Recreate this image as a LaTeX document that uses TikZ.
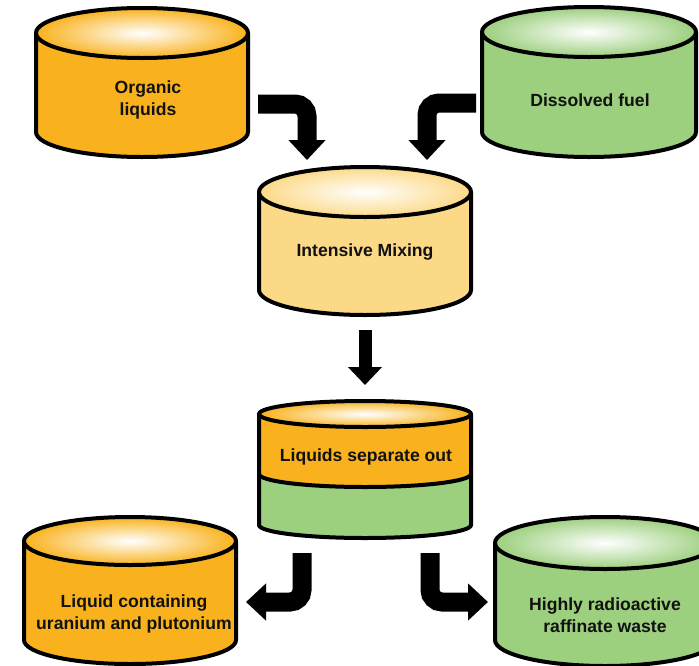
\documentclass[tikz,border=0pt]{standalone}
\usepackage{fontspec}
\setmainfont{Liberation Sans}
\usetikzlibrary{arrows.meta}
\definecolor{orangefill}{HTML}{F9B21D}
\definecolor{greenfill}{HTML}{9CCF7E}
\definecolor{lightfill}{HTML}{FCD987}
\definecolor{inktext}{HTML}{111111}
\newcommand\drumbody[6]{% cx, ytop, ybot, rx, ry, color
  \fill[#6] (#1-#4,#2) -- (#1-#4,#3) arc[start angle=180,end angle=0,x radius=#4,y radius=#5] -- (#1+#4,#2) -- cycle;
}
\newcommand\drumoutline[5]{% cx, ytop, ybot, rx, ry
  \draw[outl] (#1-#4,#2) -- (#1-#4,#3) arc[start angle=180,end angle=0,x radius=#4,y radius=#5] -- (#1+#4,#2);
}
\newcommand\drumtop[5]{% cx, ytop, rx, ry, color
  \shade[inner color=white, outer color=#5] (#1,#2) ellipse[x radius=#3,y radius=#4];
  \draw[outl] (#1,#2) ellipse[x radius=#3,y radius=#4];
}
\tikzset{
  outl/.style={line width=4pt, black, line join=round},
  lbl/.style={font=\fontsize{17.6}{21.5}\selectfont\bfseries, text=inktext, align=center, inner sep=0pt},
  bentarrow/.style={line width=19pt, black, rounded corners=12pt, -{Triangle[width=36pt,length=20pt]}},
  straightarrow/.style={line width=13pt, black, -{Triangle[width=33pt,length=18pt]}}
}
\begin{document}
\begin{tikzpicture}[x=1pt,y=-1pt]
\useasboundingbox (0,0) rectangle (699,665);
\clip (0,0) rectangle (699,665);
\fill[white] (0,0) rectangle (699,665);

% Organic liquids
\drumbody{142}{33}{132}{106}{25}{orangefill}
\drumoutline{142}{33}{132}{106}{25}
\drumtop{142}{33}{106}{25}{orangefill}
\node[lbl] (organic) at (148,100) {Organic\\liquids};

% Dissolved fuel
\drumbody{589}{32}{132}{107}{25}{greenfill}
\drumoutline{589}{32}{132}{107}{25}
\drumtop{589}{32}{107}{25}{greenfill}
\node[lbl] (fuel) at (590,100) {Dissolved fuel};

% Intensive mixing
\drumbody{365}{192}{290}{106}{25}{lightfill}
\drumoutline{365}{192}{290}{106}{25}
\drumtop{365}{192}{106}{25}{lightfill}
\node[lbl] (mixing) at (365,252) {Intensive Mixing};

% Liquids separate out
\drumbody{365}{414}{525}{106}{13}{greenfill}
\drumbody{365}{414}{474}{106}{13}{orangefill}
\draw[outl] (259,474) arc[start angle=180,end angle=0,x radius=106,y radius=13];
\drumoutline{365}{414}{525}{106}{13}
\drumtop{365}{414}{106}{13}{orangefill}
\node[lbl] (separate) at (366,457) {Liquids separate out};

% Liquid containing uranium and plutonium
\drumbody{130}{541}{640}{106}{24}{orangefill}
\drumoutline{130}{541}{640}{106}{24}
\drumtop{130}{541}{106}{24}{orangefill}
\node[lbl] (uranium) at (134,614) {Liquid containing\\uranium and plutonium};

% Highly radioactive raffinate waste
\drumbody{605}{543}{640}{110}{26}{greenfill}
\drumoutline{605}{543}{640}{110}{26}
\drumtop{605}{543}{110}{26}{greenfill}
\node[lbl] (waste) at (605,615) {Highly radioactive\\raffinate waste};

% arrow end points
\coordinate (a1s) at (258,104);
\coordinate (a1c) at (307,104);
\coordinate (a1e) at (307,160);
\coordinate (a2s) at (476,103);
\coordinate (a2c) at (427,103);
\coordinate (a2e) at (427,160);
\coordinate (a3s) at (365,330);
\coordinate (a3e) at (365,385);
\coordinate (a4s) at (302,553);
\coordinate (a4c) at (302,602);
\coordinate (a4e) at (246,602);
\coordinate (a5s) at (430,553);
\coordinate (a5c) at (430,602);
\coordinate (a5e) at (488,602);

\draw[bentarrow] (a1s) -- (a1c) -- (a1e);
\draw[bentarrow] (a2s) -- (a2c) -- (a2e);
\draw[straightarrow] (a3s) -- (a3e);
\draw[bentarrow] (a4s) -- (a4c) -- (a4e);
\draw[bentarrow] (a5s) -- (a5c) -- (a5e);
\end{tikzpicture}
\end{document}
